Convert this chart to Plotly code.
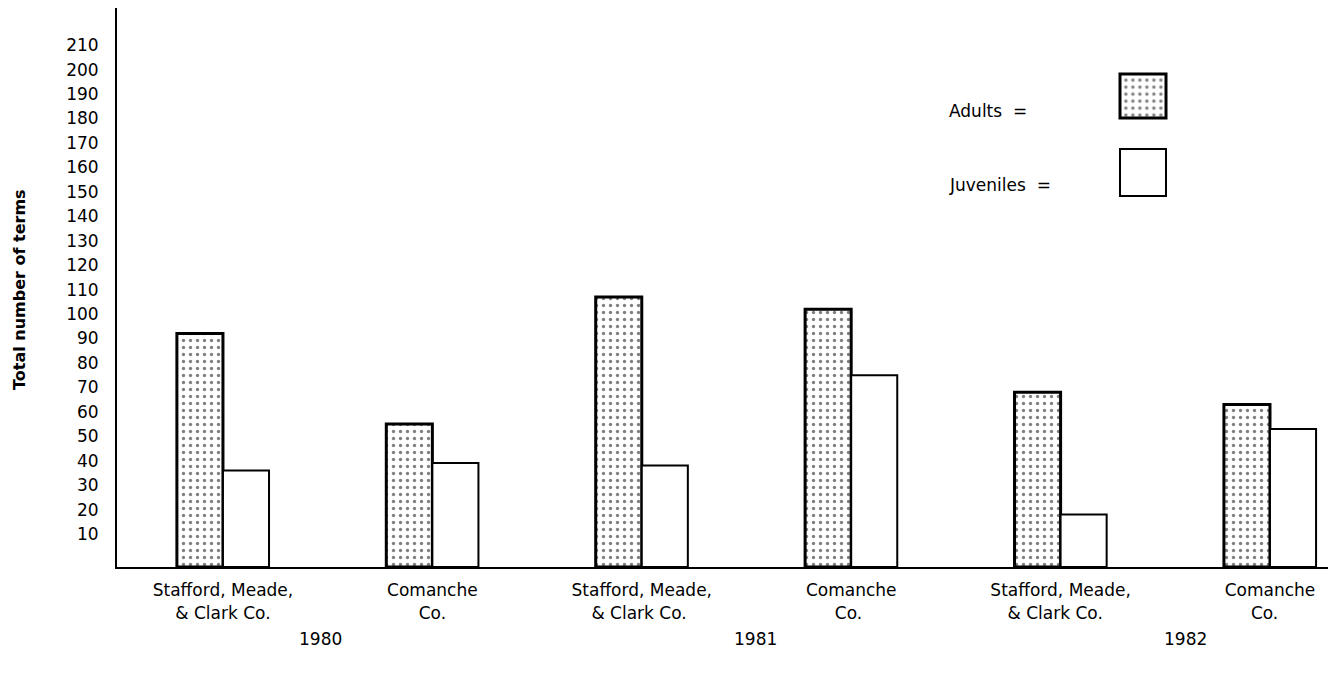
import plotly.graph_objects as go

# ---- data ----
categories = ["Stafford, Meade,<br>& Clark Co.", "Comanche<br>Co.",
              "Stafford, Meade,<br>& Clark Co. ", "Comanche<br>Co. ",
              "Stafford, Meade,<br>& Clark Co.  ", "Comanche<br>Co.  "]
adults = [92, 55, 107, 102, 68, 63]
juveniles = [36, 39, 38, 75, 18, 53]
years = ["1980", "1981", "1982"]
y_ticks = list(range(10, 220, 10))
legend_labels = ["Adults  =", "Juveniles  ="]

# ---- layout constants (px in 1333x673 page) ----
W, H = 1333, 673
L, R, T, B = 117, 1328, 8, 567
PW, PH = R - L, B - T
Y_MIN, Y_MAX = -3.5, 225.2
FONT = "DejaVu Sans"

def px_x(x):
    return (x - L) / PW

def px_y(y):
    return (B - y) / PH

dot = dict(shape=".", fgcolor="black", bgcolor="white", size=7, solidity=0.18, fillmode="overlay")

fig = go.Figure()
fig.add_trace(go.Bar(x=categories, y=[v - Y_MIN for v in adults], base=Y_MIN, name="Adults",
                     marker=dict(color="white", pattern=dot, line=dict(color="black", width=3)),
                     showlegend=False, hoverinfo="skip"))
fig.add_trace(go.Bar(x=categories, y=[v - Y_MIN for v in juveniles], base=Y_MIN, name="Juveniles",
                     marker=dict(color="white", line=dict(color="black", width=2)),
                     showlegend=False, hoverinfo="skip"))

# legend swatches on small hidden axes
fig.add_trace(go.Bar(x=[0], y=[1], width=[1], xaxis="x2", yaxis="y2", showlegend=False,
                     marker=dict(color="white", pattern=dot, line=dict(color="black", width=3)),
                     hoverinfo="skip"))
fig.add_trace(go.Bar(x=[0], y=[1], width=[1], xaxis="x3", yaxis="y3", showlegend=False,
                     marker=dict(color="white", line=dict(color="black", width=2)),
                     hoverinfo="skip"))

annotations = []
for txt, yy in zip(legend_labels, [111, 185]):
    annotations.append(dict(text=txt, x=px_x(947), y=px_y(yy), xref="paper", yref="paper",
                            xanchor="left", yanchor="middle", showarrow=False,
                            font=dict(family=FONT, size=17, color="black")))
for txt, xx in zip(years, [320, 755, 1185]):
    annotations.append(dict(text=txt, x=px_x(xx), y=px_y(639), xref="paper", yref="paper",
                            xanchor="center", yanchor="middle", showarrow=False,
                            font=dict(family=FONT, size=17, color="black")))
annotations.append(dict(text="<b>Total number of terms</b>", x=px_x(19), y=px_y(290),
                        xref="paper", yref="paper", xanchor="center", yanchor="middle",
                        textangle=-90, showarrow=False,
                        font=dict(family=FONT, size=16, color="black")))

sw_x = [px_x(1143 - 27.6), px_x(1143 + 27.6)]
fig.update_layout(
    width=W, height=H,
    margin=dict(l=L, r=W - R, t=T, b=H - B, autoexpand=False),
    paper_bgcolor="white", plot_bgcolor="white",
    barmode="group", bargap=0.56, bargroupgap=0,
    font=dict(family=FONT, size=17, color="black"),
    xaxis=dict(range=[-0.506, 5.277], showline=True, linecolor="black", linewidth=2,
               showgrid=False, zeroline=False, ticks="", ticklabelstandoff=7,
               tickfont=dict(family=FONT, size=17), fixedrange=True),
    yaxis=dict(range=[Y_MIN, Y_MAX], tickvals=y_ticks, showline=True, linecolor="black",
               linewidth=2, showgrid=False, zeroline=False, ticks="", ticklabelstandoff=13,
               tickfont=dict(family=FONT, size=17), fixedrange=True),
    xaxis2=dict(domain=sw_x, range=[-0.6, 0.6], visible=False, anchor="y2"),
    yaxis2=dict(domain=[px_y(96 + 26.4), px_y(96 - 26.4)], range=[-0.1, 1.1], visible=False, anchor="x2"),
    xaxis3=dict(domain=sw_x, range=[-0.6, 0.6], visible=False, anchor="y3"),
    yaxis3=dict(domain=[px_y(172.5 + 28.2), px_y(172.5 - 28.2)], range=[-0.1, 1.1], visible=False, anchor="x3"),
    annotations=annotations,
)

fig.write_html("out.html", config={"displayModeBar": False},
               post_script="document.body.style.margin='0';document.body.style.overflow='hidden';")
